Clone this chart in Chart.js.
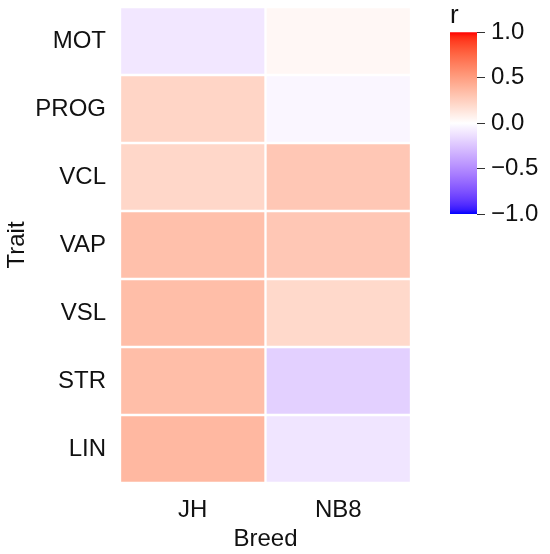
<!DOCTYPE html>
<html>
<head>
<meta charset="utf-8">
<script src="https://cdn.jsdelivr.net/npm/chart.js@4"></script>
<style>
  html, body { margin: 0; padding: 0; background: #fff; }
  #wrap { position: relative; width: 550px; height: 554px; overflow: hidden; }
  #heat { position: absolute; left: 0; top: 0; }
  #bar { position: absolute; left: 430px; top: 0; }
</style>
</head>
<body>
<div id="wrap">
  <canvas id="heat" width="430" height="554"></canvas>
  <canvas id="bar" width="120" height="554"></canvas>
</div>
<script>
const traits = ["MOT", "PROG", "VCL", "VAP", "VSL", "STR", "LIN"];
const breeds = ["JH", "NB8"];
const rJH  = [-0.10, 0.22, 0.21, 0.33, 0.34, 0.34, 0.37];
const rNB8 = [0.04, -0.04, 0.29, 0.29, 0.20, -0.20, -0.11];
const colorbarTicks = [-1.0, -0.5, 0.0, 0.5, 1.0];

const FONT = "'Liberation Sans', Arial, sans-serif";
const TXT = '#111';

// --- Lab-space diverging palette (low blue, mid white, high red) ---
function srgbToLin(c){ c/=255; return c<=0.04045? c/12.92 : Math.pow((c+0.055)/1.055,2.4); }
function linToSrgb(c){ c = c<=0.0031308? 12.92*c : 1.055*Math.pow(c,1/2.4)-0.055; return Math.max(0,Math.min(255,Math.round(c*255))); }
const Xn=0.95047, Yn=1.0, Zn=1.08883;
function f(t){ return t>0.008856? Math.cbrt(t) : 7.787*t+16/116; }
function finv(t){ return t>0.206893? t*t*t : (t-16/116)/7.787; }
function rgbToLab(rgb){
  const r=srgbToLin(rgb[0]), g=srgbToLin(rgb[1]), b=srgbToLin(rgb[2]);
  const X=0.4124*r+0.3576*g+0.1805*b, Y=0.2126*r+0.7152*g+0.0722*b, Z=0.0193*r+0.1192*g+0.9505*b;
  const fx=f(X/Xn), fy=f(Y/Yn), fz=f(Z/Zn);
  return [116*fy-16, 500*(fx-fy), 200*(fy-fz)];
}
function labToRgb(lab){
  const fy=(lab[0]+16)/116, fx=fy+lab[1]/500, fz=fy-lab[2]/200;
  const X=Xn*finv(fx), Y=Yn*finv(fy), Z=Zn*finv(fz);
  const r= 3.2406*X-1.5372*Y-0.4986*Z, g=-0.9689*X+1.8758*Y+0.0415*Z, b=0.0557*X-0.2040*Y+1.0570*Z;
  return [linToSrgb(r), linToSrgb(g), linToSrgb(b)];
}
const LAB_LOW = rgbToLab([0,0,255]), LAB_MID = rgbToLab([255,255,255]), LAB_HIGH = rgbToLab([255,0,0]);
function colorFor(v){
  const t = Math.min(1, Math.abs(v));
  const end = v >= 0 ? LAB_HIGH : LAB_LOW;
  const lab = LAB_MID.map((m,i)=> m + (end[i]-m)*t);
  const c = labToRgb(lab);
  return `rgb(${c[0]},${c[1]},${c[2]})`;
}

// --- Heatmap ---
const datasets = traits.map((t, i) => ({
  label: t,
  data: [[i, i + 1], [i, i + 1]],
  backgroundColor: [colorFor(rJH[i]), colorFor(rNB8[i])],
  borderColor: '#ffffff',
  borderWidth: 1.5,
  borderSkipped: false,
  grouped: false,
  barPercentage: 1,
  categoryPercentage: 1
}));

new Chart(document.getElementById('heat'), {
  type: 'bar',
  data: { labels: breeds, datasets },
  options: {
    responsive: false,
    animation: false,
    events: [],
    layout: { padding: { top: 7, right: 19, left: 0, bottom: 0 } },
    plugins: { legend: { display: false }, tooltip: { enabled: false } },
    scales: {
      x: {
        type: 'category',
        offset: true,
        grid: { display: false, drawTicks: false },
        border: { display: false },
        ticks: { color: TXT, font: { family: FONT, size: 24 }, padding: 13 },
        title: { display: true, text: 'Breed', color: TXT, font: { family: FONT, size: 24 }, padding: { top: 0, bottom: 0 } },
        afterFit: s => { s.height = 71; s.paddingLeft = 0; s.paddingRight = 0; }
      },
      y: {
        type: 'linear',
        min: 0, max: 7,
        reverse: true,
        grid: { display: false, drawTicks: false },
        border: { display: false },
        afterBuildTicks: s => { s.ticks = traits.map((t, i) => ({ value: i + 0.5 })); },
        ticks: {
          color: TXT, font: { family: FONT, size: 24 }, padding: 14,
          autoSkip: false,
          callback: v => traits[Math.round(v - 0.5)]
        },
        title: { display: true, text: 'Trait', color: TXT, font: { family: FONT, size: 24 }, padding: { top: 3, bottom: 0 } },
        afterFit: s => { s.width = 120; s.paddingTop = 0; s.paddingBottom = 0; }
      }
    }
  }
});

// --- Colour bar ---
new Chart(document.getElementById('bar'), {
  type: 'bar',
  data: {
    labels: ['r'],
    datasets: [{
      data: [[colorbarTicks[0], colorbarTicks[colorbarTicks.length - 1]]],
      barPercentage: 1,
      categoryPercentage: 1,
      borderWidth: 0,
      backgroundColor: ctx => {
        const ch = ctx.chart;
        const area = ch.chartArea;
        if (!area) return '#fff';
        const ys = ch.scales.y;
        const y0 = ys.getPixelForValue(-1), y1 = ys.getPixelForValue(1);
        const g = ch.ctx.createLinearGradient(0, y0, 0, y1);
        for (let k = 0; k <= 40; k++) {
          const v = -1 + 2 * k / 40;
          g.addColorStop(k / 40, colorFor(v));
        }
        return g;
      }
    }]
  },
  options: {
    responsive: false,
    animation: false,
    events: [],
    layout: { padding: { top: 0, right: 0, left: 20, bottom: 340 } },
    plugins: {
      legend: { display: false },
      tooltip: { enabled: false },
      title: {
        display: true, text: 'r', align: 'start', color: TXT,
        font: { family: FONT, size: 26, weight: 'normal' },
        padding: { top: 0, bottom: 1 }
      }
    },
    scales: {
      x: { display: false, offset: true },
      y: {
        position: 'right',
        min: -1, max: 1,
        afterBuildTicks: s => { s.ticks = colorbarTicks.map(v => ({ value: v })); },
        grid: { drawOnChartArea: false, drawTicks: true, tickLength: 8, color: '#333', lineWidth: 1 },
        border: { display: false },
        ticks: {
          color: TXT, font: { family: FONT, size: 24 }, padding: 6,
          callback: v => (v < 0 ? '\u2212' : '') + Math.abs(v).toFixed(1)
        },
        afterFit: s => { s.width = 73; s.paddingTop = 0; s.paddingBottom = 0; }
      }
    }
  }
});
</script>
</body>
</html>
